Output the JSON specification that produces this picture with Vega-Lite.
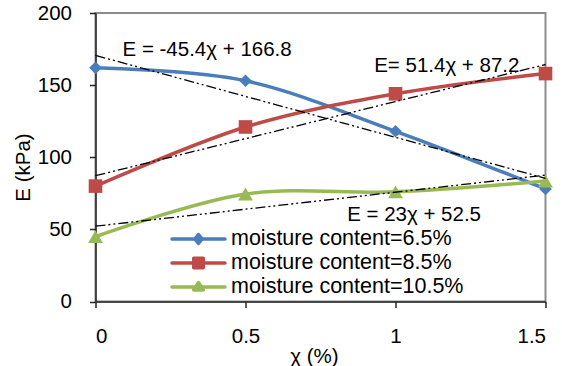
{
  "$schema": "https://vega.github.io/schema/vega-lite/v6.json",
  "width": 450,
  "height": 288.5,
  "autosize": {"type": "none"},
  "padding": {"left": 95.5, "top": 13, "right": 16.5, "bottom": 64.5},
  "background": "white",
  "config": {
    "font": "Liberation Sans",
    "view": {"stroke": "#8c8c8c", "strokeWidth": 2},
    "axis": {
      "grid": false,
      "domainColor": "#262626",
      "domainWidth": 1.5,
      "tickColor": "#262626",
      "tickWidth": 1.5,
      "tickSize": 6,
      "labelFont": "Liberation Sans",
      "labelFontSize": 20.5,
      "labelColor": "#000000",
      "titleFont": "Liberation Sans",
      "titleFontSize": 20.5,
      "titleFontWeight": "normal",
      "titleColor": "#000000"
    }
  },
  "datasets": {
    "points": [
      {"series": "moisture content=6.5%", "chi": 0, "E": 162},
      {"series": "moisture content=6.5%", "chi": 0.5, "E": 153},
      {"series": "moisture content=6.5%", "chi": 1, "E": 118},
      {"series": "moisture content=6.5%", "chi": 1.5, "E": 78},
      {"series": "moisture content=8.5%", "chi": 0, "E": 80},
      {"series": "moisture content=8.5%", "chi": 0.5, "E": 121},
      {"series": "moisture content=8.5%", "chi": 1, "E": 144},
      {"series": "moisture content=8.5%", "chi": 1.5, "E": 158},
      {"series": "moisture content=10.5%", "chi": 0, "E": 45},
      {"series": "moisture content=10.5%", "chi": 0.5, "E": 74.5},
      {"series": "moisture content=10.5%", "chi": 1, "E": 76},
      {"series": "moisture content=10.5%", "chi": 1.5, "E": 83.5}
    ],
    "trends": [
      {"series": "moisture content=6.5%", "chi": 0, "E": 170.6},
      {"series": "moisture content=6.5%", "chi": 1.5, "E": 85.4},
      {"series": "moisture content=8.5%", "chi": 0, "E": 87.2},
      {"series": "moisture content=8.5%", "chi": 1.5, "E": 164.3},
      {"series": "moisture content=10.5%", "chi": 0, "E": 52.2},
      {"series": "moisture content=10.5%", "chi": 1.5, "E": 87.6}
    ],
    "labels": [
      {"label": "E = -45.4χ + 166.8", "chi": 0.372, "E": 174.4},
      {"label": "E= 51.4χ + 87.2", "chi": 1.171, "E": 163.6},
      {"label": "E = 23χ + 52.5", "chi": 1.062, "E": 60.2}
    ]
  },
  "encoding": {
    "x": {
      "field": "chi", "type": "quantitative",
      "scale": {"domain": [0, 1.5], "nice": false, "zero": false},
      "axis": {"values": [0, 0.5, 1, 1.5], "format": "~g", "title": "χ (%)", "labelPadding": 19, "titleX": 218.5, "titleY": 54.5, "titleBaseline": "middle", "titleAlign": "center"}
    },
    "y": {
      "field": "E", "type": "quantitative",
      "scale": {"domain": [0, 200], "nice": false},
      "axis": {"values": [0, 50, 100, 150, 200], "title": "E (kPa)", "labelPadding": 18, "titleX": -72.5, "titleY": 154, "titleBaseline": "middle", "titleAlign": "center", "titleAngle": -90}
    },
    "color": {
      "field": "series", "type": "nominal",
      "scale": {"domain": ["moisture content=6.5%", "moisture content=8.5%", "moisture content=10.5%"], "range": ["#4a7ebb", "#be4b48", "#98b954"]}
    }
  },
  "layer": [
    {
      "data": {"name": "points"},
      "mark": {"type": "line", "interpolate": "cardinal", "strokeWidth": 3.5, "strokeCap": "round"},
      "encoding": {
        "color": {
          "field": "series", "type": "nominal",
          "scale": {"domain": ["moisture content=6.5%", "moisture content=8.5%", "moisture content=10.5%"], "range": ["#4a7ebb", "#be4b48", "#98b954"]},
          "legend": {
            "title": null, "orient": "none", "legendX": 74.5, "legendY": 214, "padding": 0,
            "clipHeight": 24, "rowPadding": 0, "symbolSize": 2809, "symbolStrokeWidth": 3.5,
            "labelFontSize": 21.5, "labelColor": "#000000", "labelFont": "Liberation Sans", "labelOffset": 4, "labelLimit": 400,
            "encode": {"symbols": {"update": {
              "shape": {"signal": "datum.value === 'moisture content=6.5%' ? 'M-1,0L1,0M0,-0.17L0.14,0L0,0.17L-0.14,0Z' : datum.value === 'moisture content=8.5%' ? 'M-1,0L1,0M-0.18,-0.18L0.18,-0.18L0.18,0.18L-0.18,0.18Z' : 'M-1,0L1,0M0,-0.17L0.18,0.11L-0.18,0.11Z'"},
              "fill": {"signal": "scale('color', datum.value)"},
              "stroke": {"signal": "scale('color', datum.value)"},
              "size": {"value": 2809},
              "strokeWidth": {"value": 3.5},
              "strokeCap": {"value": "round"},
              "strokeJoin": {"value": "round"},
              "opacity": {"value": 1},
              "fillOpacity": {"value": 1}
            }}}
          }
        }
      }
    },
    {
      "data": {"name": "points"},
      "transform": [{"filter": "datum.series === 'moisture content=6.5%'"}],
      "mark": {"type": "point", "filled": true, "opacity": 1, "size": 160, "shape": "diamond"}
    },
    {
      "data": {"name": "points"},
      "transform": [{"filter": "datum.series === 'moisture content=8.5%'"}],
      "mark": {"type": "point", "filled": true, "opacity": 1, "size": 185, "shape": "square"}
    },
    {
      "data": {"name": "points"},
      "transform": [{"filter": "datum.series === 'moisture content=10.5%'"}],
      "mark": {"type": "point", "filled": true, "opacity": 1, "size": 220, "shape": "triangle-up"}
    },
    {
      "data": {"name": "trends"},
      "mark": {"type": "line", "color": "#000000", "strokeWidth": 1.3, "strokeDash": [10, 3, 2, 3, 2, 3]},
      "encoding": {"color": {"value": "#000000"}, "detail": {"field": "series", "type": "nominal"}}
    },
    {
      "data": {"name": "labels"},
      "mark": {"type": "text", "fontSize": 20.5, "font": "Liberation Sans", "color": "#000000", "align": "center", "baseline": "middle"},
      "encoding": {"color": {"value": "#000000"}, "text": {"field": "label", "type": "nominal"}}
    }
  ]
}
